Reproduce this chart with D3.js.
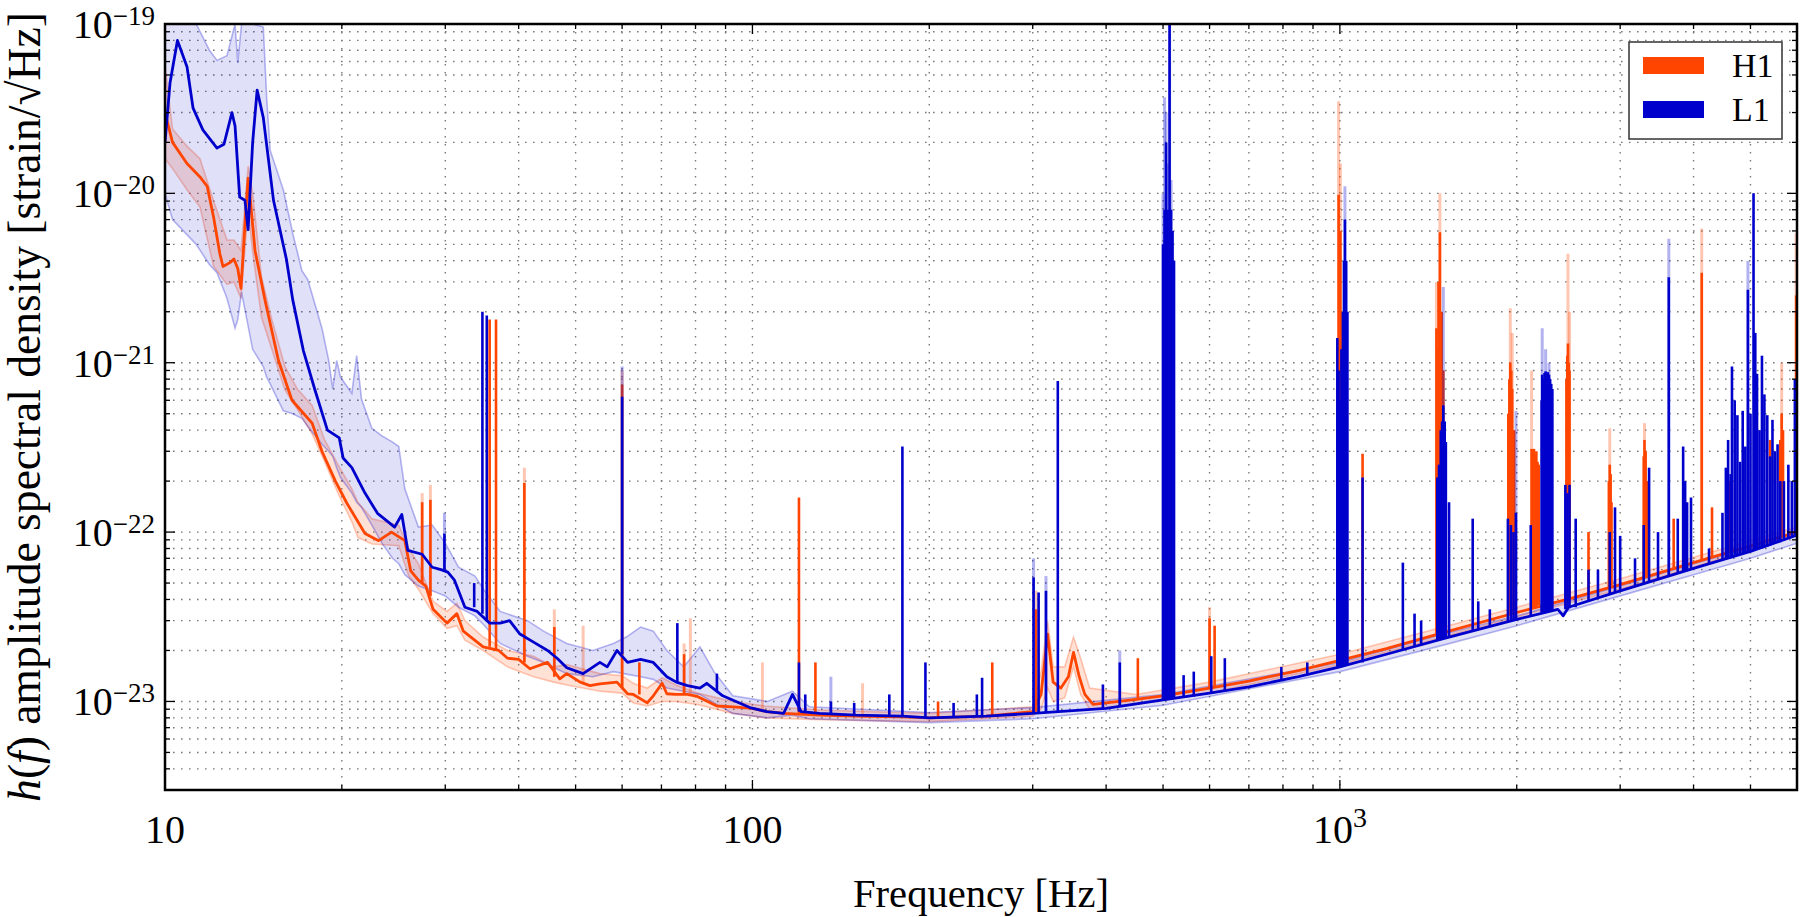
<!DOCTYPE html>
<html>
<head>
<meta charset="utf-8">
<script src="https://cdn.jsdelivr.net/npm/d3@7"></script>
<style>
body { margin: 0; background: #fff; }
</style>
</head>
<body>
<script>
// ---- data (frequency in Hz, ASD in strain/sqrt(Hz)) ----
var seriesNames = ["H1", "L1"];

// smooth part of each median curve
var h1Line = [[10.0,3.0e-20],[10.3,2.0e-20],[10.9,1.5e-20],[11.47,1.25e-20],[11.8,1.1e-20],[12.1,7.2e-21],[12.4,4.4e-21],[12.55,3.7e-21],[12.9,3.9e-21],[13.1,4.1e-21],[13.3,3.6e-21],[13.47,2.75e-21],[13.7,7.0e-21],[13.85,1.23e-20],[14.0,8.5e-21],[14.23,4.6e-21],[14.8,2.34e-21],[15.6,1.03e-21],[16.45,6.0e-22],[17.8,4.4e-22],[18.5,3.0e-22],[19.5,2.0e-22],[20.4,1.48e-22],[21.9,9.8e-23],[23.1,8.9e-23],[24.3,1.0e-22],[25.6,8.9e-23],[26.2,5.9e-23],[27.0,5.2e-23],[27.8,4.8e-23],[28.6,3.5e-23],[30.2,2.9e-23],[31.4,3.3e-23],[32.2,2.6e-23],[34.8,2.1e-23],[37.0,2.0e-23],[38.3,1.8e-23],[40.0,1.77e-23],[41.8,1.56e-23],[44.8,1.7e-23],[47.0,1.36e-23],[48.3,1.46e-23],[50.9,1.3e-23],[52.9,1.24e-23],[55.0,1.27e-23],[58.8,1.3e-23],[61.3,1.11e-23],[62.7,1.1e-23],[66.2,9.8e-24],[67.8,1.08e-23],[70.2,1.28e-23],[71.5,1.11e-23],[74.0,1.1e-23],[77.5,1.1e-23],[80.6,1.07e-23],[87.0,9.4e-24],[92.6,9.3e-24],[100,9.1e-24],[105.8,8.7e-24],[113,8.5e-24],[130,8.3e-24],[150,8.2e-24],[180,8.1e-24],[200,8.0e-24],[250,8.2e-24],[300,8.7e-24],[310,1.1e-23],[318,2.5e-23],[325,1.3e-23],[335,1.2e-23],[345,1.4e-23],[352,1.95e-23],[360,1.4e-23],[368,1.1e-23],[380,9.6e-24],[450,1.03e-23],[500,1.08e-23],[600,1.2e-23],[700,1.32e-23],[850,1.52e-23],[1000,1.75e-23],[1200,2.05e-23],[1500,2.55e-23],[2000,3.35e-23],[2500,4.1e-23],[3000,4.9e-23],[4000,6.6e-23],[5000,8.3e-23],[6000,1.0e-22]];

var l1Line = [[10.0,2.0e-20],[10.2,4.5e-20],[10.5,8.0e-20],[10.9,5.6e-20],[11.16,3.2e-20],[11.6,2.37e-20],[12.26,1.85e-20],[12.6,1.95e-20],[13.0,3.0e-20],[13.16,2.5e-20],[13.4,9.5e-21],[13.68,9.1e-21],[13.85,6.1e-21],[14.1,2.0e-20],[14.35,4.07e-20],[14.7,2.8e-20],[15.3,9.1e-21],[16.1,4.06e-21],[16.5,2.35e-21],[17.2,1.18e-21],[18.0,6.9e-22],[18.9,4.0e-22],[19.8,3.6e-22],[20.1,2.74e-22],[20.8,2.4e-22],[21.9,1.7e-22],[23.0,1.29e-22],[24.6,1.07e-22],[25.3,1.27e-22],[25.9,7.8e-23],[27.4,7.4e-23],[28.5,6.2e-23],[29.5,6.0e-23],[30.3,5.8e-23],[31.1,5.2e-23],[32.4,3.6e-23],[34.0,3.4e-23],[35.7,2.9e-23],[37.2,2.9e-23],[38.6,3.0e-23],[40.2,2.5e-23],[42.4,2.24e-23],[44.8,2.0e-23],[46.5,1.8e-23],[48.3,1.58e-23],[51.5,1.46e-23],[55.0,1.7e-23],[56.6,1.6e-23],[58.8,2.0e-23],[61.3,1.7e-23],[64.5,1.77e-23],[67.8,1.7e-23],[71.5,1.4e-23],[74.2,1.3e-23],[77.5,1.24e-23],[81.4,1.2e-23],[83.6,1.28e-23],[89,1.08e-23],[99,9.2e-24],[105.8,8.7e-24],[113,8.5e-24],[117,1.1e-23],[121,8.7e-24],[130,8.5e-24],[150,8.3e-24],[180,8.2e-24],[200,8.0e-24],[250,8.2e-24],[300,8.5e-24],[400,9.1e-24],[500,1.02e-23],[600,1.12e-23],[700,1.22e-23],[850,1.4e-23],[1000,1.6e-23],[1200,1.9e-23],[1500,2.35e-23],[2000,3.05e-23],[2350,3.5e-23],[2400,3.2e-23],[2450,3.6e-23],[3000,4.5e-23],[4000,6.1e-23],[5000,7.7e-23],[6000,9.6e-23]];

// percentile bands: [f, low, high]
var h1Band = [[10.0,1.6e-20,5.7e-20],[10.3,1.4e-20,2.4e-20],[10.9,1.05e-20,1.9e-20],[11.47,8.3e-21,1.6e-20],[12.1,3.7e-21,9.0e-21],[12.75,2.9e-21,5.3e-21],[13.1,3.0e-21,5.3e-21],[13.47,2.4e-21,4.6e-21],[13.7,5.0e-21,9.0e-21],[13.85,8.0e-21,1.45e-20],[14.1,4.5e-21,1.0e-20],[14.6,1.85e-21,3.2e-21],[15.2,1.2e-21,1.8e-21],[16.0,6.9e-22,9.5e-22],[16.8,5.3e-22,7.0e-22],[17.8,3.8e-22,5.6e-22],[18.7,2.6e-22,3.5e-22],[19.7,1.7e-22,2.5e-22],[20.8,1.15e-22,1.8e-22],[21.3,9.3e-23,1.5e-22],[22.5,8.5e-23,1.2e-22],[25.0,8.3e-23,1.1e-22],[26.0,5.5e-23,8.0e-23],[27.0,4.6e-23,6.5e-23],[28.6,3.3e-23,3.9e-23],[30.2,2.7e-23,3.4e-23],[31.4,2.8e-23,3.8e-23],[32.4,2.3e-23,3.0e-23],[34.8,2.0e-23,2.4e-23],[38.3,1.6e-23,2.0e-23],[42.4,1.4e-23,1.85e-23],[45.9,1.3e-23,1.6e-23],[48.3,1.25e-23,1.65e-23],[55.0,1.15e-23,1.46e-23],[60.0,1.12e-23,1.42e-23],[62.7,9.8e-24,1.28e-23],[66.2,9.4e-24,1.2e-23],[70.2,1.0e-23,1.38e-23],[74,1.0e-23,1.25e-23],[80.6,9.6e-24,1.12e-23],[92.6,8.5e-24,1.0e-23],[105,8.0e-24,9.4e-24],[130,7.8e-24,8.9e-24],[200,7.6e-24,8.5e-24],[300,8.2e-24,9.3e-24],[310,9.0e-24,1.5e-23],[318,1.2e-23,3.0e-23],[325,1.0e-23,1.6e-23],[340,1.05e-23,1.6e-23],[352,1.6e-23,2.4e-23],[362,1.1e-23,1.8e-23],[375,9.0e-24,1.2e-23],[450,9.6e-24,1.1e-23],[600,1.12e-23,1.3e-23],[1000,1.65e-23,1.9e-23],[1500,2.4e-23,2.75e-23],[2000,3.15e-23,3.6e-23],[3000,4.6e-23,5.3e-23],[4000,6.2e-23,7.1e-23],[5000,7.9e-23,8.9e-23],[6000,9.5e-23,1.07e-22]];

var l1Band = [[10.0,1.0e-20,1e-19],[10.3,7.0e-21,1e-19],[11.3,5.0e-21,1e-19],[11.9,3.8e-21,7.0e-20],[12.26,3.4e-21,6.1e-20],[12.75,2.4e-21,6.5e-20],[13.16,1.6e-21,1e-19],[13.3,1.8e-21,5.9e-20],[13.5,2.6e-21,1e-19],[14.1,1.2e-21,1e-19],[14.7,9.5e-22,9.6e-20],[14.9,8.2e-22,3.6e-20],[15.1,7.5e-22,1.8e-20],[15.9,5.2e-22,1.05e-20],[16.5,5.0e-22,5.8e-21],[17.1,4.7e-22,3.5e-21],[17.5,4.2e-22,3.1e-21],[18.5,3.3e-22,1.6e-21],[19.0,3.0e-22,1.03e-21],[19.3,2.8e-22,7.0e-22],[19.6,2.4e-22,1.03e-21],[19.9,2.1e-22,8.2e-22],[20.8,1.7e-22,6.6e-22],[21.2,1.5e-22,1.1e-21],[21.6,1.4e-22,6.1e-22],[22.5,1.1e-22,4.1e-22],[23.4,8.6e-23,3.7e-22],[24.4,7.0e-23,3.4e-22],[25.0,6.5e-23,3.2e-22],[25.6,5.6e-23,1.8e-22],[27.0,4.8e-23,1.07e-22],[28.5,4.5e-23,1.1e-22],[30.0,4.2e-23,8.6e-23],[31.6,3.6e-23,6.2e-23],[33.7,3.2e-23,5.5e-23],[35.0,2.8e-23,4.5e-23],[37.2,2.2e-23,3.4e-23],[41.4,1.85e-23,3.0e-23],[44.1,1.7e-23,2.6e-23],[48.3,1.46e-23,2.2e-23],[53.5,1.4e-23,2.0e-23],[58,1.5e-23,2.2e-23],[61,1.45e-23,2.4e-23],[64.5,1.4e-23,2.75e-23],[67.8,1.35e-23,2.6e-23],[71.5,1.2e-23,2.0e-23],[76.4,1.15e-23,1.6e-23],[81.4,1.1e-23,2.1e-23],[86,9.8e-24,1.5e-23],[92.6,8.5e-24,1.08e-23],[106,8.0e-24,1.0e-23],[117,8.3e-24,1.15e-23],[125,7.9e-24,9.3e-24],[200,7.5e-24,8.6e-24],[300,7.9e-24,9.2e-24],[500,9.5e-24,1.1e-23],[1000,1.5e-23,1.7e-23],[1500,2.15e-23,2.5e-23],[2000,2.8e-23,3.2e-23],[3000,4.2e-23,4.8e-23],[4000,5.6e-23,6.5e-23],[5000,7.0e-23,8.1e-23],[6000,8.6e-23,1.0e-22]];

// narrow spectral lines: [f, base, median top, band top] (0 = not visible)
var h1Peaks = [[27.4,5.0e-23,1.5e-22,1.7e-22],[28.3,4.2e-23,1.55e-22,1.9e-22],[35.7,2.1e-23,1.8e-21,0],[36.6,2.0e-23,1.8e-21,0],[40.9,1.7e-23,1.95e-22,2.4e-22],[46.0,1.4e-23,2.75e-23,3.5e-23],[51.5,1.3e-23,0,2.8e-23],[60.0,1.2e-23,7.4e-22,9.0e-22],[64.2,1.1e-23,1.7e-23,0],[76.5,1.1e-23,1.9e-23,2.2e-23],[78.4,1.1e-23,0,3.1e-23],[104,8.8e-24,0,1.7e-23],[120,8.5e-24,1.6e-22,0],[128,8.4e-24,1.7e-23,0],[154,8.2e-24,0,1.28e-23],[207,8.0e-24,1.0e-23,0],[256,8.2e-24,1.7e-23,0],[304,8.7e-24,3.5e-23,4.5e-23],[453,1.03e-23,1.8e-23,0],[506,1.08e-23,2.5e-23,0],[600,1.2e-23,3.1e-23,3.6e-23],[612,1.2e-23,2.8e-23,0],[995,1.75e-23,9.8e-21,3.5e-20],[1002,1.75e-23,6e-21,1.5e-20],[1008,1.75e-23,2e-21,0],[1093,1.9e-23,2.9e-22,0],[1460,2.5e-23,1.6e-21,3e-21],[1466,2.5e-23,1.2e-21,0],[1472,2.5e-23,3e-21,0],[1480,2.5e-23,5.9e-21,1.0e-20],[1490,2.5e-23,2e-21,0],[1500,2.55e-23,9e-22,0],[1935,3.3e-23,5e-22,0],[1943,3.3e-23,8e-22,0],[1950,3.3e-23,1.0e-21,2.1e-21],[1958,3.3e-23,9e-22,0],[1965,3.3e-23,7e-22,1.5e-21],[1980,3.3e-23,4e-22,0],[2120,3.6e-23,3.1e-22,9e-22],[2130,3.6e-23,3.0e-22,0],[2140,3.6e-23,3.1e-22,0],[2150,3.6e-23,2.8e-22,0],[2160,3.6e-23,3.0e-22,0],[2170,3.7e-23,2.6e-22,0],[2180,3.7e-23,2.5e-22,0],[2430,4.0e-23,8e-22,0],[2438,4.0e-23,1.1e-21,0],[2445,4.0e-23,1.3e-21,4.4e-21],[2452,4.0e-23,1.0e-21,0],[2460,4.0e-23,9e-22,2e-21],[2650,4.4e-23,1e-22,0],[2870,4.7e-23,2.0e-22,0],[2880,4.7e-23,2.5e-22,4.1e-22],[2890,4.7e-23,2.2e-22,0],[2900,4.7e-23,1.5e-22,0],[3290,5.4e-23,2.8e-22,0],[3300,5.4e-23,3.5e-22,4.4e-22],[3315,5.4e-23,3.0e-22,0],[3330,5.4e-23,2.0e-22,0],[3700,6.0e-23,1.2e-22,0],[4130,6.8e-23,3.4e-21,6.2e-21],[4300,7e-23,1.4e-22,0],[4600,7.6e-23,2e-22,0],[5100,8.5e-23,2.5e-22,0],[5400,9e-23,3.5e-22,0],[5620,9.2e-23,3.5e-22,0],[5650,9.3e-23,5e-22,1.0e-21],[5680,9.4e-23,4e-22,0],[5980,1.0e-22,2.5e-21,5.8e-21]];

var l1Peaks = [[29.9,6.0e-23,9.8e-23,1.3e-22],[33.6,3.6e-23,5.0e-23,0],[34.7,3.3e-23,2.0e-21,0],[35.3,3.0e-23,1.9e-21,0],[60.0,1.9e-23,6.3e-22,9.5e-22],[74.5,1.3e-23,2.9e-23,0],[87,1.15e-23,1.46e-23,0],[120,8.7e-24,1.7e-23,0],[123,8.6e-24,1.1e-23,0],[136,8.4e-24,1.0e-23,1.4e-23],[149,8.3e-24,9.8e-24,0],[171,8.2e-24,1.1e-23,0],[180,8.2e-24,3.2e-22,0],[197,8.0e-24,1.7e-23,0],[220,8.1e-24,9.8e-24,0],[241,8.2e-24,1.1e-23,0],[246,8.2e-24,1.38e-23,0],[301,8.5e-24,5.4e-23,7.0e-23],[307,8.6e-24,4.4e-23,0],[316,8.6e-24,4.5e-23,5.5e-23],[331,8.7e-24,7.8e-22,0],[395,9.1e-24,1.26e-23,0],[422,9.3e-24,1.7e-23,2.0e-23],[500,1.02e-23,5e-21,1e-20],[503,1.02e-23,8e-21,3.7e-20],[506,1.02e-23,2e-20,3e-20],[509,1.02e-23,8e-21,1.5e-20],[513,1.03e-23,1e-19,1e-19],[516,1.03e-23,8e-21,1.2e-20],[519,1.03e-23,6e-21,0],[522,1.04e-23,4e-21,0],[542,1.05e-23,1.43e-23,0],[564,1.07e-23,1.5e-23,0],[604,1.12e-23,1.85e-23,0],[637,1.15e-23,1.8e-23,0],[795,1.33e-23,1.6e-23,0],[880,1.43e-23,1.7e-23,0],[990,1.6e-23,1.4e-21,0],[995,1.6e-23,9e-22,0],[1000,1.6e-23,6e-22,0],[1006,1.6e-23,1.2e-21,0],[1012,1.6e-23,2e-21,0],[1016,1.6e-23,4e-21,0],[1020,1.62e-23,7e-21,1.1e-20],[1025,1.62e-23,4e-21,0],[1030,1.63e-23,2e-21,0],[1093,1.7e-23,2.1e-22,0],[1280,2.0e-23,6.6e-23,0],[1340,2.1e-23,3.3e-23,0],[1375,2.15e-23,3.0e-23,0],[1465,2.3e-23,2.1e-22,0],[1475,2.3e-23,2.5e-22,0],[1485,2.35e-23,4e-22,0],[1493,2.35e-23,4.5e-22,0],[1500,2.35e-23,5.6e-22,2.8e-21],[1508,2.4e-23,4.5e-22,0],[1515,2.4e-23,3.4e-22,0],[1534,2.4e-23,1.5e-22,0],[1683,2.6e-23,1.2e-22,0],[1720,2.65e-23,3.9e-23,0],[1800,2.75e-23,3.5e-23,0],[1932,2.95e-23,1.2e-22,0],[1955,2.95e-23,1.1e-22,0],[1975,3.0e-23,1.0e-22,0],[1994,3.0e-23,1.3e-22,5.2e-22],[2113,3.2e-23,1.1e-22,0],[2205,3.35e-23,6e-22,0],[2210,3.35e-23,8.5e-22,1.6e-21],[2220,3.35e-23,8e-22,0],[2230,3.4e-23,8.7e-22,0],[2240,3.4e-23,8.9e-22,1.2e-21],[2250,3.4e-23,8.5e-22,0],[2260,3.4e-23,8.8e-22,0],[2270,3.4e-23,8.5e-22,1.0e-21],[2280,3.45e-23,8e-22,0],[2290,3.45e-23,7.5e-22,0],[2300,3.45e-23,7e-22,0],[2420,3.5e-23,1.9e-22,0],[2440,3.5e-23,1.7e-22,0],[2460,3.55e-23,1.9e-22,0],[2520,3.6e-23,1.2e-22,0],[2650,3.9e-23,6e-23,0],[2750,4.1e-23,6e-23,0],[2880,4.3e-23,1.0e-22,0],[2940,4.4e-23,1.4e-22,0],[3000,4.5e-23,9.5e-23,0],[3180,4.8e-23,7e-23,0],[3290,5.0e-23,1.1e-22,0],[3360,5.1e-23,2.4e-22,0],[3480,5.3e-23,1.0e-22,0],[3630,5.5e-23,3.2e-21,5.4e-21],[3760,5.7e-23,1.2e-22,0],[3840,5.9e-23,3.2e-22,0],[3870,5.9e-23,2.0e-22,0],[3900,6.0e-23,1.5e-22,0],[3960,6.0e-23,1.6e-22,0],[4250,6.5e-23,8e-23,0],[4480,6.8e-23,1.3e-22,0],[4540,6.9e-23,2.4e-22,0],[4580,7.0e-23,3.5e-22,0],[4625,7.0e-23,2.2e-22,0],[4650,7.1e-23,9.5e-22,0],[4700,7.2e-23,6e-22,0],[4750,7.3e-23,4.9e-22,0],[4800,7.4e-23,2.6e-22,0],[4850,7.5e-23,5.2e-22,0],[4900,7.5e-23,3.2e-22,0],[4950,7.6e-23,2.7e-21,4.0e-21],[5000,7.7e-23,5e-22,0],[5060,7.8e-23,1.0e-20,0],[5095,7.9e-23,1.5e-21,0],[5130,7.9e-23,8.6e-22,0],[5180,8.0e-23,4e-22,0],[5230,8.0e-23,1.1e-21,0],[5280,8.1e-23,6.5e-22,0],[5340,8.2e-23,4.9e-22,0],[5400,8.3e-23,2.8e-22,0],[5450,8.4e-23,4.6e-22,0],[5500,8.5e-23,3e-22,0],[5560,8.6e-23,3.3e-22,0],[5620,8.7e-23,2.0e-22,0],[5700,8.9e-23,2e-22,0],[5800,9.1e-23,2.5e-22,0],[5880,9.3e-23,2e-22,0],[5950,9.5e-23,8e-22,0]];

var xTickValues = [10, 100, 1000];
var xTickBase = ["10", "100", "10"];
var xTickExp = ["", "", "3"];
var yTickValues = [1e-23, 1e-22, 1e-21, 1e-20, 1e-19];
var yTickExp = ["\u221223", "\u221222", "\u221221", "\u221220", "\u221219"];

// ---- layout ----
var width = 1800, height = 917;
var plotLeft = 165, plotRight = 1797, plotTop = 24, plotBottom = 790;
var colors = ["#ff4500", "#0000cd"];
var serif = "'Liberation Serif', 'DejaVu Serif', 'Times New Roman', serif";

var svg = d3.select("body").append("svg")
    .attr("width", width).attr("height", height)
    .attr("font-family", serif);

var x = d3.scaleLog().domain([10, 6000]).range([plotLeft, plotRight]);
var y = d3.scaleLog().domain([3e-24, 1e-19]).range([plotBottom, plotTop]);

svg.append("defs").append("clipPath").attr("id", "plot")
  .append("rect").attr("x", plotLeft).attr("y", plotTop)
  .attr("width", plotRight - plotLeft).attr("height", plotBottom - plotTop);

// grid (major + minor, dotted)
var grid = svg.append("g").attr("stroke", "#7a7a7a").attr("stroke-width", 1.4)
  .attr("stroke-dasharray", "1.6,6.4");
x.ticks().filter(function(v) { return v > 10 && v < 6000; }).forEach(function(v) {
  grid.append("line").attr("x1", x(v)).attr("x2", x(v)).attr("y1", plotTop).attr("y2", plotBottom);
});
y.ticks().filter(function(v) { return v > 3.01e-24 && v < 0.99e-19; }).forEach(function(v) {
  grid.append("line").attr("y1", y(v)).attr("y2", y(v)).attr("x1", plotLeft).attr("x2", plotRight);
});

var plot = svg.append("g").attr("clip-path", "url(#plot)");

var area = d3.area().x(function(d) { return x(d[0]); })
  .y0(function(d) { return y(d[1]); }).y1(function(d) { return y(d[2]); });
var lo = d3.line().x(function(d) { return x(d[0]); }).y(function(d) { return y(d[1]); });
var hi = d3.line().x(function(d) { return x(d[0]); }).y(function(d) { return y(d[2]); });
var med = d3.line().x(function(d) { return x(d[0]); }).y(function(d) { return y(d[1]); });

[h1Band, l1Band].forEach(function(band, i) {
  plot.append("path").datum(band).attr("d", area)
    .attr("fill", colors[i]).attr("fill-opacity", i === 0 ? 0.16 : 0.12);
  [lo, hi].forEach(function(gen) {
    plot.append("path").datum(band).attr("d", gen).attr("fill", "none")
      .attr("stroke", colors[i]).attr("stroke-opacity", 0.28).attr("stroke-width", 1.6);
  });
});

function drawSeries(line, peaks, c) {
  var g = plot.append("g");
  peaks.forEach(function(p) {
    if (p[3] > 0) {
      g.append("line").attr("x1", x(p[0])).attr("x2", x(p[0]))
        .attr("y1", y(p[1])).attr("y2", y(p[3]))
        .attr("stroke", c).attr("stroke-opacity", 0.3).attr("stroke-width", 3);
    }
  });
  g.append("path").datum(line).attr("d", med).attr("fill", "none")
    .attr("stroke", c).attr("stroke-width", 2.8).attr("stroke-linejoin", "round");
  peaks.forEach(function(p) {
    if (p[2] > 0) {
      g.append("line").attr("x1", x(p[0])).attr("x2", x(p[0]))
        .attr("y1", y(p[1])).attr("y2", y(p[2]))
        .attr("stroke", c).attr("stroke-width", 2.6);
    }
  });
}
drawSeries(h1Line, h1Peaks, colors[0]);
drawSeries(l1Line, l1Peaks, colors[1]);

// ticks on all four sides, pointing inward
var ticks = svg.append("g").attr("stroke", "#000").attr("stroke-width", 1.3);
function isMajor(v) { return Math.abs(Math.log10(v) - Math.round(Math.log10(v))) < 1e-9; }
x.ticks().forEach(function(v) {
  var len = isMajor(v) ? 10 : 5;
  ticks.append("line").attr("x1", x(v)).attr("x2", x(v)).attr("y1", plotBottom).attr("y2", plotBottom - len);
  ticks.append("line").attr("x1", x(v)).attr("x2", x(v)).attr("y1", plotTop).attr("y2", plotTop + len);
});
y.ticks().forEach(function(v) {
  var len = isMajor(v) ? 10 : 5;
  ticks.append("line").attr("y1", y(v)).attr("y2", y(v)).attr("x1", plotLeft).attr("x2", plotLeft + len);
  ticks.append("line").attr("y1", y(v)).attr("y2", y(v)).attr("x1", plotRight).attr("x2", plotRight - len);
});

// frame
svg.append("rect").attr("x", plotLeft).attr("y", plotTop)
  .attr("width", plotRight - plotLeft).attr("height", plotBottom - plotTop)
  .attr("fill", "none").attr("stroke", "#000").attr("stroke-width", 2.5);

// tick labels
xTickValues.forEach(function(v, i) {
  var t = svg.append("text").attr("x", x(v)).attr("y", 843)
    .attr("text-anchor", "middle").attr("font-size", 40).text(xTickBase[i]);
  if (xTickExp[i]) t.append("tspan").attr("dy", -16).attr("font-size", 28).text(xTickExp[i]);
});
yTickValues.forEach(function(v, i) {
  var t = svg.append("text").attr("x", 155).attr("y", y(v) + 14)
    .attr("text-anchor", "end").attr("font-size", 40).text("10");
  t.append("tspan").attr("dy", -13).attr("font-size", 27).text(yTickExp[i]);
});

// axis labels
var xl = svg.append("text").attr("x", (plotLeft + plotRight) / 2).attr("y", 907)
  .attr("text-anchor", "middle").attr("font-size", 42).text("Frequency [Hz]");
var w = xl.node().getComputedTextLength();
xl.attr("font-size", 42 * 256 / w);

var yl = svg.append("text").attr("transform", "translate(40," + ((plotTop + plotBottom) / 2) + ") rotate(-90)")
  .attr("text-anchor", "middle").attr("font-size", 40);
yl.append("tspan").attr("font-style", "italic").text("h");
yl.append("tspan").text("(");
yl.append("tspan").attr("font-style", "italic").text("f");
yl.append("tspan").text(") amplitude spectral density [strain/\u221A");
yl.append("tspan").attr("text-decoration", "overline").text("Hz");
yl.append("tspan").text("]");
var wl = yl.node().getComputedTextLength();
yl.attr("font-size", 40 * 790 / wl);

// legend
var lg = svg.append("g");
lg.append("rect").attr("x", 1629).attr("y", 42).attr("width", 153).attr("height", 97)
  .attr("fill", "#fff").attr("stroke", "#333").attr("stroke-width", 1.5);
seriesNames.forEach(function(name, i) {
  lg.append("rect").attr("x", 1643).attr("y", 57 + i * 44).attr("width", 61).attr("height", 17)
    .attr("fill", colors[i]);
  lg.append("text").attr("x", 1732).attr("y", 77 + i * 44).attr("font-size", 34).text(name);
});
</script>
</body>
</html>
